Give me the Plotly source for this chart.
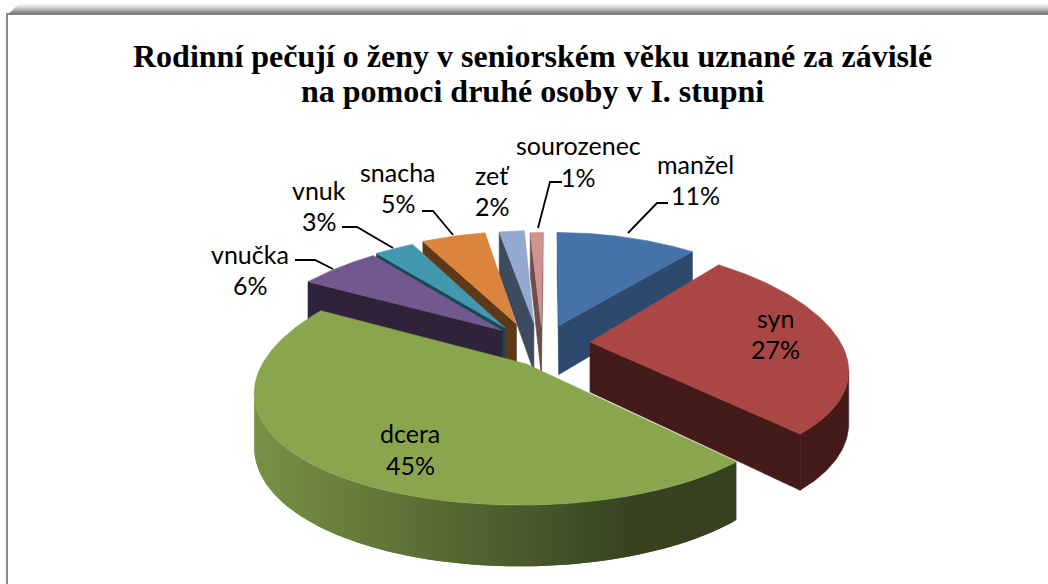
import numpy as np
import plotly.graph_objects as go

# --- data ---
categories = ["manžel", "syn", "dcera", "vnučka", "vnuk", "snacha", "zeť", "sourozenec"]
values = [11, 27, 45, 6, 3, 5, 2, 1]
top_colors = ["#4572A7", "#AA4643", "#89A54E", "#71588F", "#4198AF", "#DB843D", "#93A9CF", "#D19392"]
wall_colors = ["#2D4A6E", "#451B19", "#3A4820", "#2E2338", "#1A4653", "#5E3919", "#3E4A5E", "#6A4D4C"]
title_lines = ["Rodinní pečují o ženy v seniorském věku uznané za závislé",
               "na pomoci druhé osoby v I. stupni"]

# --- projection / style constants ---
CX, CY, HR, VR, DIST, DEPTH, XPERSP = 550, 342, 258, 112, 6.5, 50, 0.07
EXPLODE_X = [0.036, 0.155, -0.088, -0.190, -0.180, -0.135, -0.065, -0.035]
EXPLODE_Y = [-0.150, 0.0, 0.190, -0.105, -0.130, -0.165, -0.175, -0.150]
XSCALE = [1, 0.97, 0.98, 1, 1, 1, 1, 1]
DRAW_ORDER = [0, 7, 6, 5, 4, 3, 1, 2]
LABEL_FONT = "Lato, 'Open Sans', sans-serif"
LABEL_SIZE = 25
TITLE_SIZE = 32


def project(X, Y):
    s = DIST / (DIST - Y)
    return CX + HR * X * s * (1 + XPERSP * Y), CY + VR * Y * s, DEPTH * s


def poly(fig, xs, ys, color, lw=0.6):
    fig.add_trace(go.Scatter(x=list(xs), y=list(ys), mode="lines", fill="toself",
                             fillcolor=color, line=dict(color=color, width=lw),
                             hoverinfo="skip", showlegend=False))


def mix(c0, c1, t):
    return "rgb(%d,%d,%d)" % tuple(round(a + (b - a) * t) for a, b in zip(c0, c1))


fig = go.Figure()
total = sum(values)
edges = np.concatenate([[0], np.cumsum(values)]) / total * 2 * np.pi

for i in DRAW_ORDER:
    a0, a1 = edges[i], edges[i + 1]
    ang = np.linspace(a0, a1, max(int((a1 - a0) * 70), 6))
    ox, oy = EXPLODE_X[i], EXPLODE_Y[i]
    tx, ty, td = project(ox, oy)
    rx, ry, rd = project(ox + XSCALE[i] * np.sin(ang), oy - np.cos(ang))
    am = (a0 + a1) / 2
    ix, iy, _ = project(ox + 0.5 * np.sin(am), oy - 0.5 * np.cos(am))
    # radial faces
    for k in (0, -1):
        ex, ey = rx[k] - tx, ry[k] - ty
        if abs(ex) < 1e-6:
            continue
        line_y = ty + ey / ex * (ix - tx)
        if iy < line_y:
            poly(fig, [tx, rx[k], rx[k], tx, tx],
                 [ty, ry[k], ry[k] + rd[k], ty + td, ty], wall_colors[i])
    # outer wall
    vis = [j for j in range(len(ang) - 1) if rx[j + 1] < rx[j]]
    if vis:
        if i == 2:
            # gradient: small overlapping strips, no stroke, so no seams show
            for j in vis:
                t = np.clip((rx[j] - 265) / (640 - 265), 0, 1)
                col = mix((118, 144, 68), (54, 66, 32), t)
                e = min(j + 2, len(ang) - 1)
                poly(fig, [rx[j], rx[j + 1], rx[e], rx[e], rx[j + 1], rx[j], rx[j]],
                     [ry[j], ry[j + 1], ry[e], ry[e] + rd[e], ry[j + 1] + rd[j + 1], ry[j] + rd[j], ry[j]],
                     col, 0)
        else:
            idx = vis + [vis[-1] + 1]
            xs = [rx[j] for j in idx] + [rx[j] for j in idx[::-1]] + [rx[idx[0]]]
            ys = [ry[j] for j in idx] + [ry[j] + rd[j] for j in idx[::-1]] + [ry[idx[0]]]
            poly(fig, xs, ys, wall_colors[i])
    # top face
    poly(fig, [tx, *rx, tx], [ty, *ry, ty], top_colors[i])

# leader lines
leaders = [([295, 315, 333], [260, 260, 269]),
           ([342, 357, 393], [227, 227, 248]),
           ([422, 433, 453], [211, 211, 235]),
           ([562, 550, 538], [182, 182, 228]),
           ([668, 657, 628], [203, 203, 233])]
for lx, ly in leaders:
    fig.add_trace(go.Scatter(x=lx, y=ly, mode="lines", line=dict(color="black", width=1.8),
                             hoverinfo="skip", showlegend=False))

annotations = []


def text(x, y, s, font, size, bold=False):
    annotations.append(dict(x=x, y=y, xref="x", yref="y", text=f"<b>{s}</b>" if bold else s,
                            showarrow=False, xanchor="center", yanchor="middle",
                            font=dict(family=font, size=size, color="black")))


text(532, 56, title_lines[0], "Liberation Serif", TITLE_SIZE, True)
text(532, 91, title_lines[1], "Liberation Serif", TITLE_SIZE, True)

label_pos = {"manžel": ((695, 164), (695, 195)), "syn": ((775, 318), (775, 349)),
             "dcera": ((410, 433), (410, 465)), "vnučka": ((250, 254), (250, 285)),
             "vnuk": ((319, 190), (319, 221)), "snacha": ((398, 172), (398, 203)),
             "zeť": ((492, 175), (492, 206)), "sourozenec": ((578, 145), (578, 177))}
for c, v in zip(categories, values):
    (x1, y1), (x2, y2) = label_pos[c]
    text(x1, y1, c, LABEL_FONT, LABEL_SIZE)
    text(x2, y2, f"{v}%", LABEL_FONT, LABEL_SIZE)

# frame with soft top shadow
shapes = []
for n in range(11):
    g = 255 - round(120 * (n / 10) ** 1.4)
    shapes.append(dict(type="rect", x0=10 + (10 - n) * 1.0, x1=1048, y0=2 + n, y1=3 + n,
                       line_width=0, fillcolor=f"rgb({g},{g},{g})", layer="below"))
shapes.append(dict(type="rect", x0=6, x1=1048, y0=13, y1=15, line_width=0,
                   fillcolor="#808080", layer="below"))
shapes.append(dict(type="rect", x0=6, x1=8, y0=13, y1=584, line_width=0,
                   fillcolor="#8C8C8C", layer="below"))

fig.update_layout(width=1048, height=584, margin=dict(l=0, r=0, t=0, b=0),
                  paper_bgcolor="white", plot_bgcolor="white", showlegend=False,
                  xaxis=dict(range=[0, 1048], visible=False, fixedrange=True),
                  yaxis=dict(range=[584, 0], visible=False, fixedrange=True),
                  annotations=annotations, shapes=shapes)
fig.write_html("out.html", config={"displayModeBar": False},
               post_script="document.body.style.margin='0';document.documentElement.style.overflow='hidden';")
